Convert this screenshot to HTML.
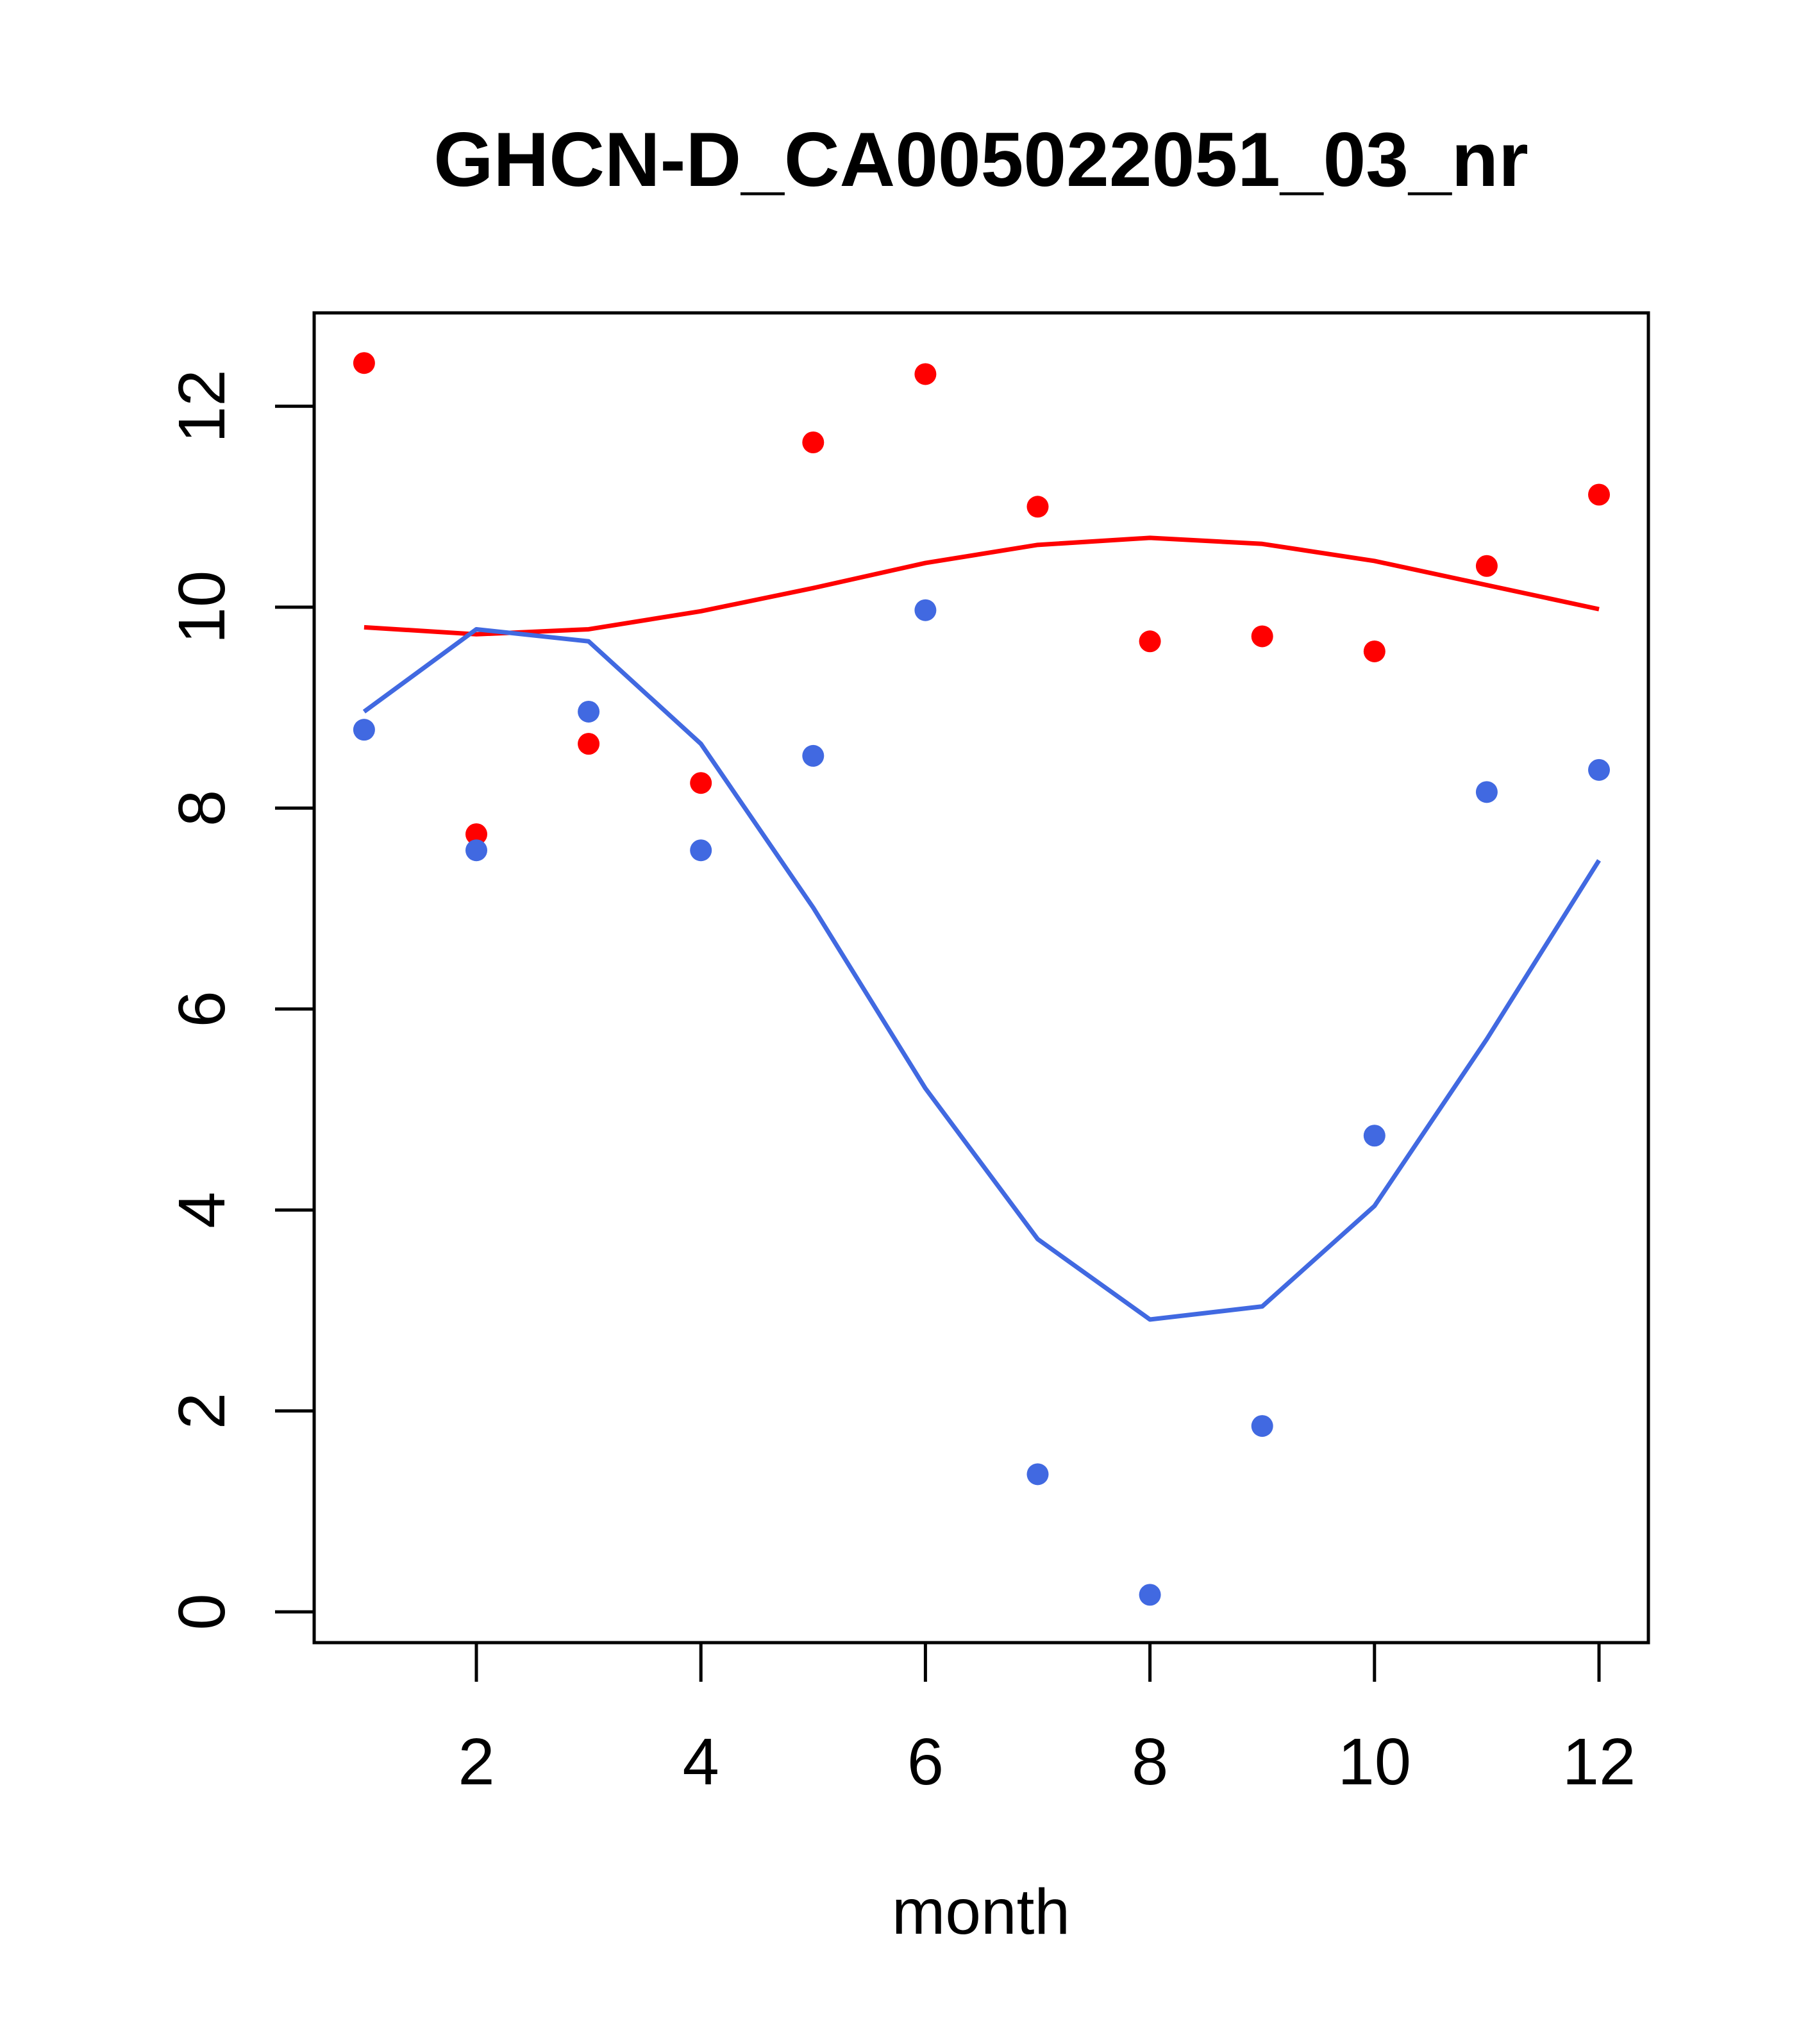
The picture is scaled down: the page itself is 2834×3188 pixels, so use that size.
<!DOCTYPE html>
<html><head><meta charset="utf-8"><style>body{margin:0;background:#fff}svg{display:block}</style></head>
<body>
<svg id="chart" width="2834" height="3188" viewBox="0 0 2834 3188" xmlns="http://www.w3.org/2000/svg" font-family="Liberation Sans, Arial, sans-serif">
<rect width="2834" height="3188" fill="#fff"/>
<text x="1530" y="290" font-size="120" font-weight="bold" text-anchor="middle">GHCN-D_CA005022051_03_nr</text>
<rect x="490" y="488" width="2081" height="2074" fill="none" stroke="#000" stroke-width="5"/>
<text x="1530" y="3016" font-size="100" text-anchor="middle">month</text>
<g id="axes"></g>
<g id="marks"></g>
</svg>
<script>
const months = [1,2,3,4,5,6,7,8,9,10,11,12];
const redPoints = [12.43,7.74,8.64,8.25,11.64,12.32,11.0,9.66,9.71,9.56,10.41,11.12];
const bluePoints = [8.78,7.58,8.96,7.58,8.52,9.97,1.37,0.17,1.85,4.74,8.16,8.38];
const redLine = [9.80,9.73,9.78,9.96,10.19,10.44,10.62,10.69,10.63,10.46,10.22,9.98];
const blueLine = [8.96,9.78,9.66,8.64,7.01,5.21,3.71,2.91,3.04,4.04,5.70,7.48];
const xTicks = [2,4,6,8,10,12];
const yTicks = [0,2,4,6,8,10,12];

const NS = 'http://www.w3.org/2000/svg';
function xs(m){return 743 + (m-2)*175.1;}
function ys(v){return 2514 - v*156.7;}
const axes = document.getElementById('axes');
const marks = document.getElementById('marks');
function mk(tag, attrs, parent){const e=document.createElementNS(NS,tag);for(const k in attrs)e.setAttribute(k,attrs[k]);parent.appendChild(e);return e;}

xTicks.forEach(t=>{
  const l = mk('line',{x1:xs(t),x2:xs(t),y1:2562,y2:2623,stroke:'#000','stroke-width':5},axes);
  
  
  const tx = mk('text',{x:xs(t),y:2783,'font-size':103,'text-anchor':'middle'},axes);
  tx.textContent = t;
  
  
});
yTicks.forEach(t=>{
  const l = mk('line',{x1:429,x2:490,y1:ys(t),y2:ys(t),stroke:'#000','stroke-width':5},axes);
  
  
  const tx = mk('text',{x:0,y:0,'font-size':103,'text-anchor':'middle',transform:`translate(350,${ys(t)}) rotate(-90)`},axes);
  tx.textContent = t;
  
  
});

function line(vals,color,name){
  const p = mk('polyline',{points:months.map((m,i)=>xs(m)+','+ys(vals[i])).join(' '),fill:'none',stroke:color,'stroke-width':7,'stroke-linejoin':'round'},marks);
  
  
}
function pts(vals,color,name){
  months.forEach((m,i)=>{
    const c = mk('circle',{cx:xs(m),cy:ys(vals[i]),r:17,fill:color},marks);
    
    
  });
}
line(redLine,'#ff0000','red-smooth-line');
line(blueLine,'#4169e1','blue-smooth-line');
pts(redPoints,'#ff0000','red-point');
pts(bluePoints,'#4169e1','blue-point');
</script>
</body></html>
